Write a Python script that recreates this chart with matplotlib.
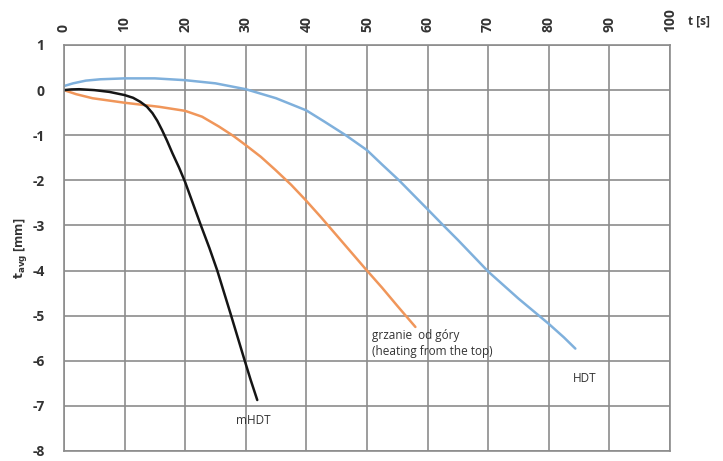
import matplotlib
matplotlib.use("Agg")
import matplotlib.pyplot as plt

plt.rcParams['font.family'] = ['Open Sans', 'DejaVu Sans']

# HDT (blue)
hdt_t = [0, 1.5, 3.6, 6, 10, 15, 20, 25, 30, 35, 40, 43, 46.5, 50, 52.5, 55.3, 57.5, 60, 62.4, 65, 67.5, 70, 72.5, 75, 77.5, 80, 82.5, 84.4]
hdt_y = [0.09, 0.15, 0.21, 0.24, 0.26, 0.26, 0.22, 0.15, 0.02, -0.18, -0.45, -0.7, -1.0, -1.33, -1.65, -2.0, -2.3, -2.64, -2.97, -3.32, -3.67, -4.02, -4.32, -4.62, -4.9, -5.18, -5.48, -5.73]

# grzanie od góry (orange)
top_t = [0, 2, 4.7, 10, 15.7, 20, 22.8, 25.6, 28, 30, 32.5, 34.9, 37.5, 39.9, 42.5, 45, 47.5, 50, 52.5, 55, 58]
top_y = [0.0, -0.09, -0.18, -0.28, -0.37, -0.46, -0.59, -0.81, -1.02, -1.22, -1.48, -1.77, -2.1, -2.44, -2.83, -3.22, -3.61, -4.0, -4.38, -4.78, -5.25]

# mHDT (black)
m_t = [0, 1.2, 2.5, 5, 7.5, 10, 11.4, 12.6, 13.7, 14.6, 15.4, 16.2, 17.0, 17.9, 19.0, 20.0, 21.3, 22.6, 24.0, 25.3, 26.4, 27.5, 28.6, 29.7, 30.8, 31.9]
m_y = [0.0, 0.015, 0.02, 0.0, -0.04, -0.11, -0.17, -0.26, -0.37, -0.51, -0.68, -0.89, -1.12, -1.4, -1.72, -2.04, -2.52, -3.0, -3.5, -4.0, -4.48, -4.96, -5.45, -5.94, -6.42, -6.87]

xticks = [0, 10, 20, 30, 40, 50, 60, 70, 80, 90, 100]
yticks = [1, 0, -1, -2, -3, -4, -5, -6, -7, -8]

fig = plt.figure(figsize=(7.23, 4.61), dpi=100)
ax = fig.add_axes([0.0885, 0.0217, 0.838, 0.8807])

ax.plot(hdt_t, hdt_y, color='#7fb0dc', lw=1.8, solid_capstyle='round', solid_joinstyle='round')
ax.plot(top_t, top_y, color='#f0965a', lw=1.8, solid_capstyle='round', solid_joinstyle='round')
ax.plot(m_t, m_y, color='#151515', lw=1.8, solid_capstyle='round', solid_joinstyle='round')

ax.set_xlim(0, 100)
ax.set_ylim(-8, 1)
ax.set_xticks(xticks)
ax.set_yticks(yticks)
ax.xaxis.tick_top()
ax.set_xticklabels([str(v) for v in xticks], rotation=90, fontweight='bold', fontsize=10, color='#333333')
ax.set_yticklabels([str(v) for v in yticks], fontweight='bold', fontsize=10, color='#333333')
ax.tick_params(axis='x', length=0, pad=9)
ax.tick_params(axis='y', length=0, pad=14)
ax.grid(True, color='#8c8c8c', lw=1.2)
ax.set_axisbelow(True)
for s in ax.spines.values():
    s.set_color('#8c8c8c')
    s.set_linewidth(1.2)

ax.set_ylabel(r'$\mathbf{t_{avg}}$ [mm]', fontweight='bold', fontsize=9, color='#333333', labelpad=2)
fig.text(0.952, 0.955, 't [s]', fontweight='bold', fontsize=8.5, color='#333333', ha='left', va='center')

ax.text(31.3, -7.33, 'mHDT', fontsize=8.5, color='#333333', ha='center', va='center')
ax.text(50.8, -5.62, 'grzanie  od góry\n(heating from the top)', fontsize=8.5, color='#333333', ha='left', va='center', linespacing=1.25)
ax.text(86.0, -6.4, 'HDT', fontsize=8.5, color='#333333', ha='center', va='center')

fig.savefig('out.png', dpi=100)
